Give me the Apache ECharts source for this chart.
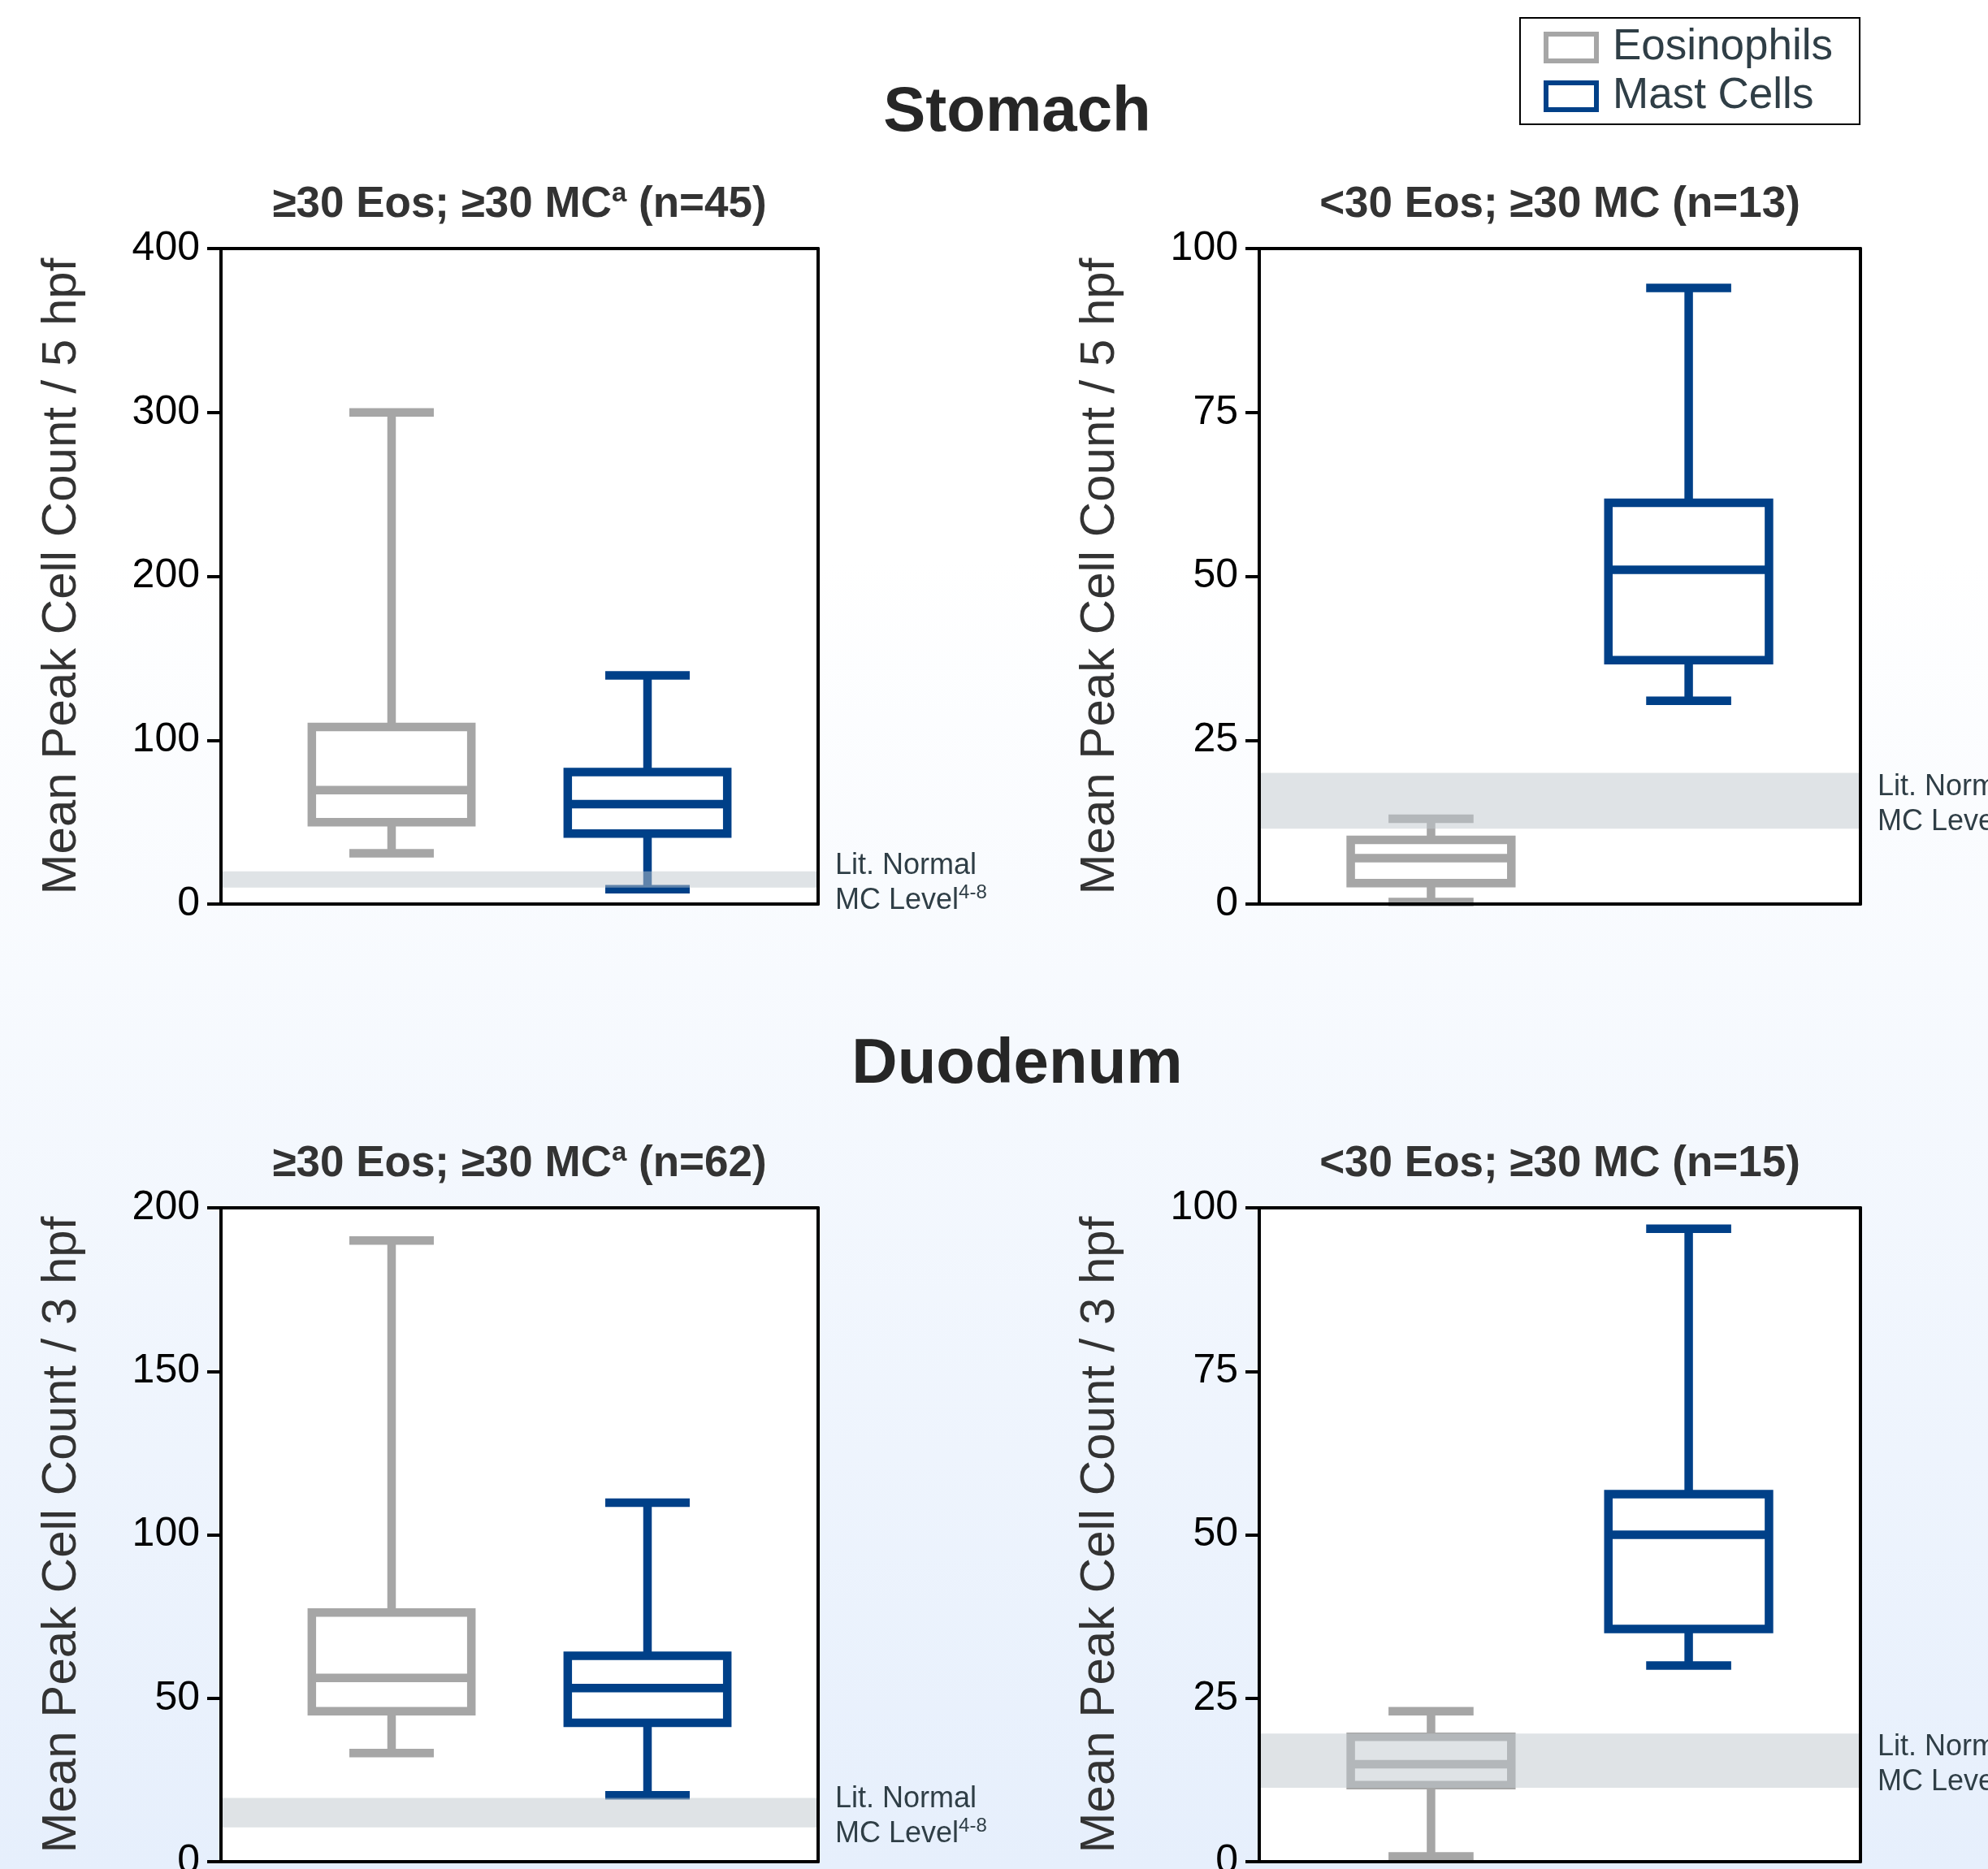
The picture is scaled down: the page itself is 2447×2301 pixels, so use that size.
<!DOCTYPE html>
<html><head><meta charset="utf-8">
<script src="https://cdn.jsdelivr.net/npm/echarts@6/dist/echarts.min.js"></script>
<style>html,body{margin:0;padding:0;background:#fff}#c{width:2447px;height:2301px}</style>
</head><body><div id="c"></div><script>
// ---------- data ----------
const categories = ['Eosinophils', 'Mast Cells'];
// each box: [min, Q1, median, Q3, max]
const stomachHighEos = [31, 50, 69.5, 108, 300];
const stomachHighMC  = [9, 43, 61, 80.5, 139.5];
const stomachLowEos  = [0.3, 3.2, 7, 9.8, 13];
const stomachLowMC   = [31, 37.2, 51, 61.2, 94];
const duodHighEos    = [33.2, 46, 56.2, 76.2, 190];
const duodHighMC     = [20.3, 42.5, 53.1, 63, 109.8];
const duodLowEos     = [0.8, 11.7, 14.9, 19.1, 23];
const duodLowMC      = [30, 35.6, 50, 56.2, 96.8];
const normalBand     = [[10, 20], [11.5, 20], [10.5, 19.5], [11.3, 19.6]];
const sectionTitles  = ['Stomach', 'Duodenum'];
const panelTitles = [
  ['≥30 Eos; ≥30 MC', 'a', ' (n=45)'],
  ['<30 Eos; ≥30 MC', '', ' (n=13)'],
  ['≥30 Eos; ≥30 MC', 'a', ' (n=62)'],
  ['<30 Eos; ≥30 MC', '', ' (n=15)']
];
const yMax      = [400, 100, 200, 100];
const yInterval = [100, 25, 50, 25];
const yNames = ['Mean Peak Cell Count / 5 hpf', 'Mean Peak Cell Count / 5 hpf',
                'Mean Peak Cell Count / 3 hpf', 'Mean Peak Cell Count / 3 hpf'];
const bandLabel = ['Lit. Normal', 'MC Level', '4-8'];

// ---------- layout / style ----------
const FONT = "'Liberation Sans', Arial, Helvetica, sans-serif";
const GRAY = '#a6a6a6', BLUE = '#004088';
const panels = [
  { left: 272,  top: 306,  width: 735, height: 807 },
  { left: 1550, top: 306,  width: 740, height: 807 },
  { left: 272,  top: 1487, width: 735, height: 805 },
  { left: 1550, top: 1487, width: 740, height: 805 }
];
const xPos = [2, 5];          // category centres on a 0..7 scale
const boxData = [
  [stomachHighEos, stomachHighMC],
  [stomachLowEos, stomachLowMC],
  [duodHighEos, duodHighMC],
  [duodLowEos, duodLowMC]
];
const colors = [GRAY, BLUE];

function makeRender(color) {
  return function (params, api) {
    const x = api.value(0);
    const c = i => api.coord([x, api.value(i)]);
    const pMin = c(1), pQ1 = c(2), pMed = c(3), pQ3 = c(4), pMax = c(5);
    const unit = api.size([1, 0])[0];
    const cx = pMed[0];
    const hw = unit * 0.935, cw = unit * 0.495;
    const st = { stroke: color, lineWidth: 10.5, fill: null };
    return { type: 'group', children: [
      { type: 'line', shape: { x1: cx, y1: pQ3[1], x2: cx, y2: pMax[1] }, style: st },
      { type: 'line', shape: { x1: cx, y1: pQ1[1], x2: cx, y2: pMin[1] }, style: st },
      { type: 'line', shape: { x1: cx - cw, y1: pMax[1], x2: cx + cw, y2: pMax[1] }, style: st },
      { type: 'line', shape: { x1: cx - cw, y1: pMin[1], x2: cx + cw, y2: pMin[1] }, style: st },
      { type: 'rect', shape: { x: cx - hw, y: pQ3[1], width: 2 * hw, height: pQ1[1] - pQ3[1] }, style: st },
      { type: 'line', shape: { x1: cx - hw, y1: pMed[1], x2: cx + hw, y2: pMed[1] }, style: st }
    ]};
  };
}

const frameLine = { show: true, onZero: false, lineStyle: { color: '#000', width: 4 } };
const grid = [], xAxis = [], yAxis = [], series = [], title = [];

title.push({ text: sectionTitles[0], left: 1252, top: 94, textAlign: 'center', padding: 0,
  textStyle: { fontFamily: FONT, fontSize: 78, fontWeight: 'bold', color: '#262626', lineHeight: 90 } });
title.push({ text: sectionTitles[1], left: 1252, top: 1266, textAlign: 'center', padding: 0,
  textStyle: { fontFamily: FONT, fontSize: 78, fontWeight: 'bold', color: '#262626', lineHeight: 90 } });

panels.forEach((p, g) => {
  grid.push({ left: p.left, top: p.top, width: p.width, height: p.height,
    show: true, backgroundColor: '#ffffff', borderWidth: 0,
    containLabel: false, outerBoundsMode: 'none' });
  const cx = p.left + p.width / 2;
  const t = panelTitles[g];
  title.push({
    text: '{b|' + t[0] + '}' + (t[1] ? '{s|' + t[1] + '}' : '') + '{b|' + t[2] + '}',
    left: cx, top: p.top - 84, textAlign: 'center', padding: 0,
    textStyle: { rich: {
      b: { fontFamily: FONT, fontSize: 53, fontWeight: 'bold', color: '#333333', lineHeight: 60 },
      s: { fontFamily: FONT, fontSize: 33, fontWeight: 'bold', color: '#333333', lineHeight: 36, verticalAlign: 'top' }
    } }
  });
  // bottom (data) x axis + top frame axis
  xAxis.push({ gridIndex: g, type: 'value', min: 0, max: 7, position: 'bottom', z: 6,
    axisLine: frameLine, axisTick: { show: false }, axisLabel: { show: false }, splitLine: { show: false } });
  xAxis.push({ gridIndex: g, type: 'value', min: 0, max: 7, position: 'top', z: 6,
    axisLine: frameLine, axisTick: { show: false }, axisLabel: { show: false }, splitLine: { show: false } });
  yAxis.push({ gridIndex: g, type: 'value', min: 0, max: yMax[g], interval: yInterval[g], position: 'left', z: 6,
    name: yNames[g], nameLocation: 'middle', nameGap: 166, nameRotate: 90,
    nameTextStyle: { fontFamily: FONT, fontSize: 60, color: '#333333' },
    axisLine: frameLine,
    axisTick: { show: true, length: 17, lineStyle: { color: '#000', width: 4 } },
    axisLabel: { fontFamily: FONT, fontSize: 50, color: '#000', margin: 26 },
    splitLine: { show: false } });
  yAxis.push({ gridIndex: g, type: 'value', min: 0, max: yMax[g], interval: yInterval[g], position: 'right', z: 6,
    axisLine: frameLine, axisTick: { show: false }, axisLabel: { show: false }, splitLine: { show: false } });

  categories.forEach((cat, k) => {
    const s = {
      type: 'custom', name: cat,
      xAxisIndex: 2 * g, yAxisIndex: 2 * g,
      renderItem: makeRender(colors[k]),
      encode: { x: 0, y: [1, 2, 3, 4, 5] },
      itemStyle: { color: colors[k] },
      data: [[xPos[k]].concat(boxData[g][k])],
      silent: true, z: 2
    };
    if (k === 0) {
      s.markArea = {
        silent: true, z: 3,
        itemStyle: { color: 'rgba(191,199,205,0.5)' },
        label: {
          show: true, position: 'right', distance: 21, padding: [10, 0, 0, 0],
          formatter: '{a|' + bandLabel[0] + '}\n{a|' + bandLabel[1] + '}{s|' + bandLabel[2] + '}',
          rich: {
            a: { fontFamily: FONT, fontSize: 36, color: '#2f3e46', lineHeight: 43 },
            s: { fontFamily: FONT, fontSize: 24, color: '#2f3e46', lineHeight: 26, verticalAlign: 'top' }
          }
        },
        data: [[{ yAxis: normalBand[g][0] }, { yAxis: normalBand[g][1] }]]
      };
    }
    series.push(s);
  });
});

const chart = echarts.init(document.getElementById('c'), null, { renderer: 'canvas' });
chart.setOption({
  animation: false,
  backgroundColor: { type: 'linear', x: 0, y: 0, x2: 0, y2: 1, colorStops: [
    { offset: 0, color: '#ffffff' }, { offset: 0.3, color: '#ffffff' }, { offset: 1, color: '#e6effc' } ] },
  textStyle: { fontFamily: FONT },
  title: title,
  legend: {
    orient: 'vertical', left: 1871, top: 22,
    padding: [10, 33, 8, 29], itemGap: 7,
    itemWidth: 62, itemHeight: 33,
    backgroundColor: '#ffffff', borderColor: '#000', borderWidth: 2,
    selectedMode: false,
    textStyle: { fontFamily: FONT, fontSize: 53, color: '#2f3e46', padding: [0, 0, 0, 15] },
    data: [
      { name: categories[0], icon: 'rect', itemStyle: { color: '#ffffff', borderColor: GRAY, borderWidth: 6 } },
      { name: categories[1], icon: 'rect', itemStyle: { color: '#ffffff', borderColor: BLUE, borderWidth: 6 } }
    ]
  },
  grid: grid, xAxis: xAxis, yAxis: yAxis, series: series
});
</script></body></html>
